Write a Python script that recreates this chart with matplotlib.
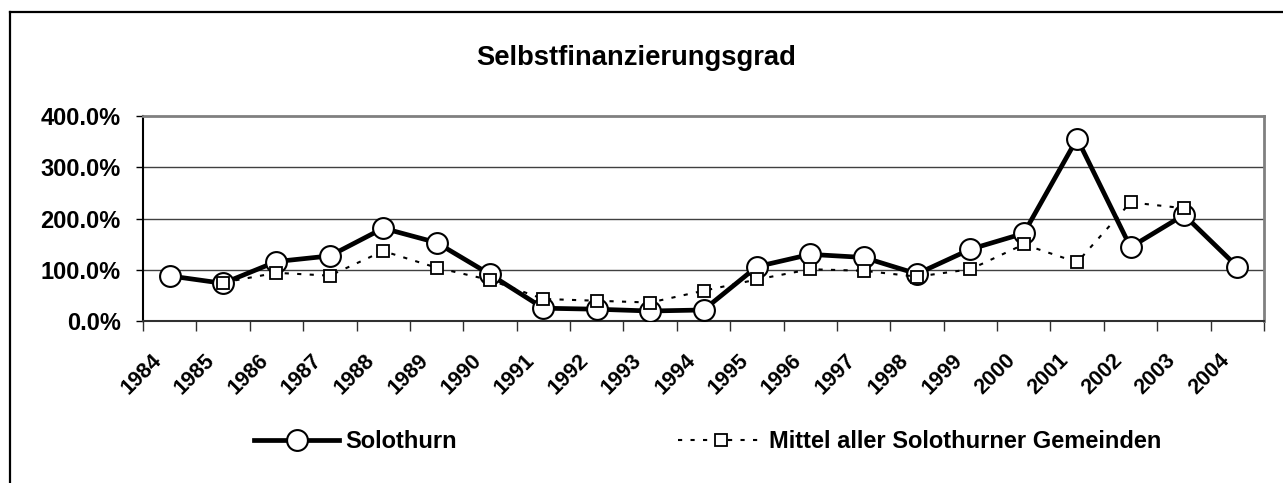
import numpy as np
import matplotlib
matplotlib.use("Agg")
import matplotlib.pyplot as plt
from matplotlib.lines import Line2D
from matplotlib.ticker import FuncFormatter, FixedLocator
from matplotlib.transforms import ScaledTranslation

plt.rcParams['font.family'] = ['Liberation Sans', 'DejaVu Sans']
plt.rcParams['font.weight'] = 'bold'

# Daten (Prozent)
years = [str(y) for y in range(1984, 2005)]
solothurn = [88, 73.5, 116, 127, 181, 153, 91, 25, 23, 19.5, 21.5,
             106, 130, 124, 92, 140, 171, 356, 144, 207, 106]
mittel = [np.nan, 75, 94, 88.5, 136.5, 104, 80, 43, 39.5, 36, 59,
          81, 101, 98, 86.5, 101, 149.5, 114.5, 231.5, 220, np.nan]

W, H = 1283, 483
fig = plt.figure(figsize=(W / 100, H / 100), dpi=100)
ax = fig.add_axes([143 / W, 1 - 321 / H, (1264 - 143) / W, (321 - 116) / H])

x = np.arange(len(years))
ax.plot(x, solothurn, color='black', lw=3.4, marker='o', ms=15,
        mfc='white', mec='black', mew=1.5, label='Solothurn', zorder=3)
ax.plot(x, mittel, color='black', lw=1.5, ls=(0, (2, 4)), marker='s', ms=8,
        mfc='white', mec='black', mew=1.3,
        label='Mittel aller Solothurner Gemeinden', zorder=4)

ax.set_xlim(-0.5, len(years) - 0.5)
ax.set_ylim(0, 400)

# y-Achse
ax.set_yticks([0, 100, 200, 300, 400])
ax.yaxis.set_major_formatter(FuncFormatter(lambda v, p: '%.1f%%' % v))
ax.tick_params(axis='y', direction='out', length=5, width=1, pad=11,
               labelsize=17)
for v in [100, 200, 300]:
    ax.axhline(v, color='#404040', lw=1, zorder=1)

# x-Achse: Striche zwischen den Kategorien
ax.xaxis.set_major_locator(FixedLocator(x))
ax.set_xticklabels(years, rotation=45, ha='right', va='top', fontsize=15.5)
ax.xaxis.set_minor_locator(FixedLocator(np.arange(-0.5, len(years), 1)))
ax.tick_params(axis='x', which='major', length=0, pad=21)
ax.tick_params(axis='x', which='minor', direction='out', length=7,
               width=1, color='#303030')
for lbl in ax.get_xticklabels():
    lbl.set_transform(lbl.get_transform() +
                      ScaledTranslation(-4 / 100, 0, fig.dpi_scale_trans))

for s in ['top', 'right']:
    ax.spines[s].set_color('#808080')
    ax.spines[s].set_linewidth(2)
ax.spines['left'].set_color('black')
ax.spines['left'].set_linewidth(1.5)
ax.spines['bottom'].set_color('#303030')
ax.spines['bottom'].set_linewidth(1.5)

fig.text(0.496, 1 - 58 / H, 'Selbstfinanzierungsgrad', ha='center',
         va='center', fontsize=19.7, fontweight='bold')

fig.legend(loc='center left', bbox_to_anchor=(254 / W, 1 - 442 / H),
           ncol=2, frameon=False, fontsize=17, handlelength=3.6,
           handletextpad=0.25, columnspacing=9.4, borderpad=0,
           borderaxespad=0)

# äusserer Rahmen (rechts und unten abgeschnitten)
fig.add_artist(Line2D([10 / W, 10 / W], [0, 1 - 12 / H], color='black',
                      lw=1.6, transform=fig.transFigure))
fig.add_artist(Line2D([10 / W, 1], [1 - 12 / H, 1 - 12 / H], color='black',
                      lw=1.6, transform=fig.transFigure))

fig.savefig('out.png', dpi=100)
